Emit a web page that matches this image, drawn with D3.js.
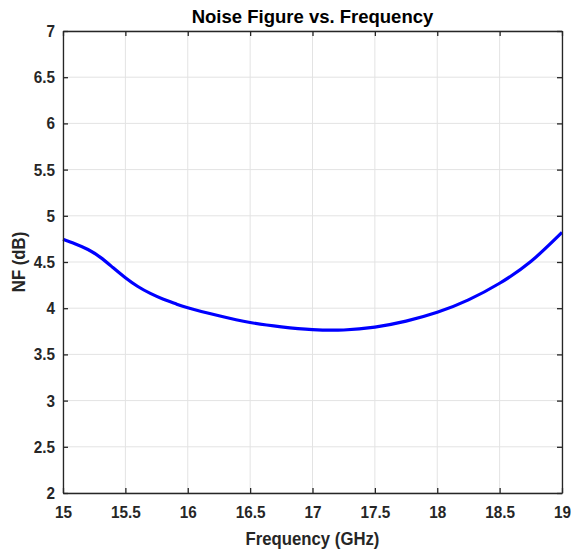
<!DOCTYPE html>
<html>
<head>
<meta charset="utf-8">
<script src="https://cdn.jsdelivr.net/npm/d3@7"></script>
<style>
  html, body { margin: 0; padding: 0; background: #fff; }
  text { font-family: "Liberation Sans", Arial, Helvetica, sans-serif; font-weight: bold; }
</style>
</head>
<body>
<svg id="chart" width="571" height="554"></svg>
<script>
// Measured noise figure across the band
const freqGHz = [15.0, 15.1, 15.2, 15.3, 15.4, 15.5, 15.6, 15.7, 15.8, 15.9, 16.0,
                 16.25, 16.5, 16.75, 17.0, 17.25, 17.5, 17.75, 18.0, 18.25, 18.5, 18.75, 19.0];
const nfDB = [4.745, 4.695, 4.635, 4.55, 4.44, 4.33, 4.235, 4.16, 4.10, 4.05, 4.005,
              3.918, 3.845, 3.798, 3.768, 3.764, 3.795, 3.86, 3.955, 4.09, 4.27, 4.505, 4.82];
const xTicks = [15, 15.5, 16, 16.5, 17, 17.5, 18, 18.5, 19];
const yTicks = [2, 2.5, 3, 3.5, 4, 4.5, 5, 5.5, 6, 6.5, 7];

const titleText = "Noise Figure vs. Frequency";
const xLabelText = "Frequency (GHz)";
const yLabelText = "NF (dB)";

const svg = d3.select("#chart");
const margin = { left: 63, right: 9, top: 31, bottom: 61 };
const W = 571, H = 554;
const x0 = margin.left, x1 = W - margin.right;
const y0 = margin.top, y1 = H - margin.bottom;

const x = d3.scaleLinear().domain([15, 19]).range([x0, x1]);
const y = d3.scaleLinear().domain([2, 7]).range([y1, y0]);

const axisColor = "#262626";
const narrow = 0.9; // horizontal squeeze for the condensed label face

// grid
const grid = svg.append("g");
grid.selectAll("line.vx").data(xTicks).join("line")
  .attr("x1", d => x(d)).attr("x2", d => x(d))
  .attr("y1", y0).attr("y2", y1)
  .attr("stroke", "#e3e3e3").attr("stroke-width", 1);
grid.selectAll("line.hy").data(yTicks).join("line")
  .attr("x1", x0).attr("x2", x1)
  .attr("y1", d => y(d)).attr("y2", d => y(d))
  .attr("stroke", "#e3e3e3").attr("stroke-width", 1);

// data line
const line = d3.line()
  .x((d, i) => x(freqGHz[i]))
  .y(d => y(d))
  .curve(d3.curveNatural);
svg.append("path")
  .datum(nfDB)
  .attr("d", line)
  .attr("fill", "none")
  .attr("stroke", "#0000ff")
  .attr("stroke-width", 3.2)
  .attr("stroke-linejoin", "round");

// axes (ticks pointing inward, box on all sides)
const tickLen = 5;
const fmt = d3.format("");
const axBottom = svg.append("g").attr("transform", `translate(0,${y1})`)
  .call(d3.axisBottom(x).tickValues(xTicks).tickSizeInner(-tickLen).tickSizeOuter(0).tickPadding(13).tickFormat(fmt));
const axTop = svg.append("g").attr("transform", `translate(0,${y0})`)
  .call(d3.axisTop(x).tickValues(xTicks).tickSizeInner(-tickLen).tickSizeOuter(0).tickFormat(""));
const axLeft = svg.append("g").attr("transform", `translate(${x0},0)`)
  .call(d3.axisLeft(y).tickValues(yTicks).tickSizeInner(-tickLen).tickSizeOuter(0).tickPadding(9).tickFormat(fmt));
const axRight = svg.append("g").attr("transform", `translate(${x1},0)`)
  .call(d3.axisRight(y).tickValues(yTicks).tickSizeInner(-tickLen).tickSizeOuter(0).tickFormat(""));

[axBottom, axTop, axLeft, axRight].forEach(g => {
  g.select(".domain").attr("stroke", axisColor).attr("stroke-width", 1.3);
  g.selectAll(".tick line").attr("stroke", axisColor).attr("stroke-width", 1.3);
  g.selectAll(".tick text").attr("fill", "#262626")
    .attr("transform", `scale(${narrow},1)`)
    .style("font-family", "'Liberation Sans', Arial, sans-serif")
    .style("font-weight", "bold").style("font-size", "17px");
});

// title and labels
svg.append("text").attr("x", (x0 + x1) / 2).attr("y", 23)
  .attr("text-anchor", "middle").attr("font-size", 18.5).attr("fill", "#000")
  .text(titleText);
svg.append("text")
  .attr("transform", `translate(${(x0 + x1) / 2},545) scale(0.93,1)`)
  .attr("text-anchor", "middle").attr("font-size", 18).attr("fill", "#262626")
  .text(xLabelText);
svg.append("text")
  .attr("transform", `translate(25,${(y0 + y1) / 2}) rotate(-90) scale(0.93,1)`)
  .attr("text-anchor", "middle").attr("font-size", 18).attr("fill", "#262626")
  .text(yLabelText);
</script>
</body>
</html>
